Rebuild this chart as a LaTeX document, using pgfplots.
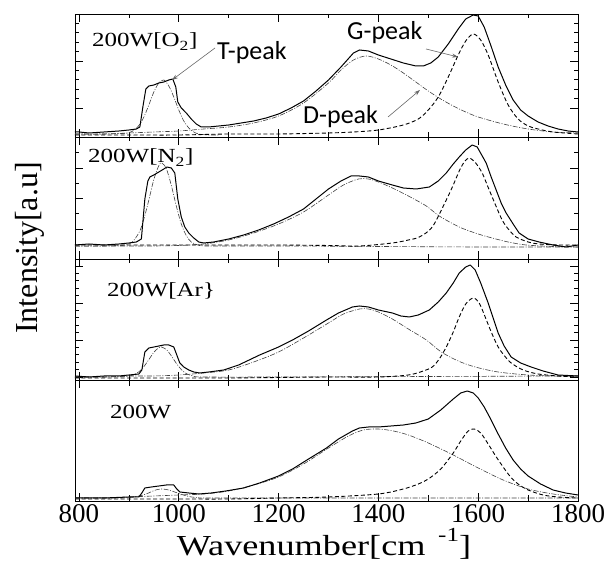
\documentclass[border=0pt]{standalone}
\usepackage{fontspec}
\setmainfont{Liberation Serif}
\newfontfamily\carlito{Carlito}
\usepackage{graphicx}
\usepackage{pgfplots}
\pgfplotsset{compat=1.18}
\usetikzlibrary{arrows.meta}

\pgfplotsset{
  panel/.style={
    scale only axis, width=503pt, xmin=792, xmax=1800, ymin=0,
    axis line style={line width=0.9pt},
    tick style={black, line width=0.7pt},
    xtick={800,1000,1200,1400,1600,1800},
    minor xtick={900,1100,1300,1500,1700},
    xticklabels={}, yticklabels={},
    major tick length=8pt, minor tick length=4.5pt,
    tick align=inside,
  },
  meas/.style={black, line width=1pt, line join=round},
  gfit/.style={black, line width=0.9pt, dash pattern=on 4pt off 2.5pt, smooth},
  dfit/.style={black!75, line width=0.6pt, dash pattern=on 5pt off 1.5pt on 1pt off 1.5pt, smooth},
}

\begin{document}
\begin{tikzpicture}
% ---------------- panel 1 : 200W[O2]
\begin{axis}[panel, at={(75pt,427pt)}, anchor=south west, height=123pt, ymax=123,
  ytick={29,76,123}, minor y tick num=4]
\addplot[dfit] coordinates {(792,3) (850,3) (900,4.3) (920,11.5) (930,20) (940,32) (950,45) (960,54) (970,57) (980,51) (990,40) (1000,27) (1010,16) (1020,9) (1030,5) (1040,3) (1060,2) (1080,2)};
\addplot[dfit] coordinates {(792,3) (850,3) (900,4) (950,5) (1000,6) (1050,8) (1100,10) (1150,14) (1200,21) (1250,34) (1300,54) (1325,67) (1350,77) (1375,81) (1400,78) (1425,72) (1450,64) (1475,55) (1500,46) (1525,38) (1550,31) (1575,25) (1600,20) (1650,13) (1700,8) (1750,5) (1800,4)};
\addplot[gfit] coordinates {(792,2) (900,2) (1000,2) (1100,3) (1200,3) (1300,4) (1350,5) (1400,7) (1450,12) (1480,18) (1500,27) (1520,40) (1540,60) (1560,82) (1575,96) (1590,103) (1605,97) (1620,82) (1640,55) (1660,32) (1680,18) (1700,11) (1720,8) (1750,5) (1800,3)};
\addplot[meas] coordinates {(792,5) (800,5) (820,4) (850,5) (880,6) (900,7) (915,8) (922,10) (928,30) (934,48) (940,51) (950,52) (960,54) (970,55) (980,57) (988,58) (994,50) (998,35) (1005,29) (1015,24) (1025,18) (1035,13) (1045,10) (1060,10) (1080,11) (1100,12) (1125,14) (1150,16) (1175,19) (1200,23) (1225,29) (1250,36) (1275,46) (1300,57) (1325,70) (1350,84) (1362,87) (1380,86) (1400,82) (1425,78) (1450,74) (1475,71) (1490,71) (1505,74) (1520,80) (1540,93) (1560,108) (1575,118) (1590,122) (1600,121) (1612,110) (1625,92) (1640,70) (1655,52) (1670,37) (1685,27) (1700,21) (1720,15) (1740,11) (1760,8) (1780,6) (1800,5)};
\end{axis}
% ---------------- panel 2 : 200W[N2]
\begin{axis}[panel, at={(75pt,305pt)}, anchor=south west, height=122pt, ymax=122,
  ytick={30,60.5,91,121.5}, minor y tick num=1]
\addplot[dfit] coordinates {(792,13) (850,13) (900,14.9) (920,26.2) (930,40) (940,59) (950,79.5) (960,93.4) (966,96) (975,90.4) (985,73.7) (995,53) (1005,35) (1015,23.4) (1025,17) (1040,13.7) (1060,13) (1200,13) (1400,12.5) (1600,12) (1800,12)};
\addplot[dfit] coordinates {(792,13) (850,13) (900,13) (950,13) (1000,13.5) (1050,15) (1100,19) (1150,26) (1200,35) (1250,47) (1300,64) (1330,74) (1360,80) (1380,80) (1400,77) (1428,71) (1460,63) (1496,53) (1522,43) (1562,32) (1600,25) (1628,21) (1660,17) (1696,14) (1750,12.5) (1800,12)};
\addplot[gfit] coordinates {(792,14) (900,14) (1000,14) (1100,14) (1200,14) (1300,13.5) (1362,13) (1428,16) (1460,19) (1482,22) (1508,32) (1536,59) (1550,74) (1562,88) (1572,97) (1582,101) (1595,96) (1608,86) (1618,74) (1628,62) (1648,39) (1662,29) (1676,22) (1700,17) (1722,15) (1760,14) (1800,14)};
\addplot[meas] coordinates {(792,14) (820,15) (850,14) (880,15) (900,16) (915,17) (925,20) (932,60) (938,78) (942,82) (950,84) (960,87) (970,90) (976,92) (985,91) (992,86) (998,60) (1005,42) (1012,32) (1020,26) (1030,21) (1040,17) (1050,16) (1070,17) (1100,20) (1130,24) (1160,29) (1190,35) (1220,42) (1250,50) (1275,60) (1300,70) (1325,78) (1345,83) (1362,83) (1380,82) (1400,78) (1428,74) (1450,71) (1476,70) (1502,72) (1520,78) (1536,86) (1550,95) (1562,102) (1575,109) (1588,114) (1598,112) (1607,104) (1616,96) (1626,82) (1636,69) (1646,56) (1656,46) (1670,35) (1682,26) (1700,20) (1722,17) (1750,14) (1776,12) (1800,14)};
\end{axis}
% ---------------- panel 3 : 200W[Ar}
\begin{axis}[panel, at={(75pt,184pt)}, anchor=south west, height=121pt, ymax=121,
  ytick={3,40,77,114}, minor y tick num=4]
\addplot[dfit] coordinates {(792,3) (850,3) (900,3.8) (920,8.2) (930,13.4) (940,20.4) (950,27.7) (960,32.4) (965,33) (975,30.5) (985,24.2) (995,16.7) (1005,10.5) (1015,6.4) (1030,3.8) (1050,3) (1200,3) (1500,3.5) (1800,4)};
\addplot[dfit] coordinates {(792,3) (850,3) (900,4) (950,4) (1000,5) (1050,7) (1100,10) (1150,18) (1200,28) (1250,42) (1300,57) (1330,66) (1362,71) (1380,71) (1400,68) (1428,61) (1460,51) (1496,40) (1526,28) (1560,19) (1594,13) (1640,8) (1700,5) (1760,4) (1800,4)};
\addplot[gfit] coordinates {(792,2) (900,2) (1000,2) (1100,2) (1200,2.5) (1300,3) (1400,3) (1460,5) (1490,9) (1508,13) (1522,21) (1536,33) (1550,48) (1562,63) (1575,76) (1590,82) (1602,77) (1614,63) (1627,47) (1640,33) (1653,24) (1666,17) (1690,10) (1720,6) (1760,4) (1800,3)};
\addplot[meas] coordinates {(792,4) (820,3) (850,4) (880,4) (900,5) (920,6) (926,10) (932,28) (940,32) (950,33) (960,34) (970,35) (980,35) (990,33) (996,25) (1002,17) (1010,13) (1020,10) (1030,8) (1042,7) (1060,8) (1090,10) (1120,15) (1162,25) (1200,33) (1228,40) (1260,49) (1296,60) (1320,67) (1348,73) (1362,74) (1380,73) (1400,70) (1428,67) (1445,64) (1462,63) (1480,65) (1502,70) (1520,78) (1536,87) (1550,97) (1562,107) (1575,113) (1584,115) (1594,110) (1605,97) (1620,77) (1630,62) (1640,47) (1652,34) (1666,23) (1685,17) (1706,13) (1730,9) (1760,5) (1800,4)};
\end{axis}
% ---------------- panel 4 : 200W
\begin{axis}[panel, at={(75pt,63pt)}, anchor=south west, height=121pt, ymax=121,
  ytick=\empty, minor ytick={7,17.6,28.2,38.8,49.4,60,70.6,81.2,91.8,102.4,113},
  minor tick length=6pt,
  xticklabels={800,1000,1200,1400,1600,1800},
  xticklabel style={font=\fontsize{27}{27}\selectfont}]
\addplot[dfit] coordinates {(792,3) (850,3) (900,3.3) (930,6.2) (945,9.3) (955,11.2) (966,12) (978,11.2) (990,9.3) (1005,6.7) (1020,4.5) (1040,3.2) (1060,3) (1300,3) (1800,3)};
\addplot[dfit] coordinates {(792,3) (850,3) (900,4) (950,5) (1000,6) (1050,7) (1100,10) (1150,16) (1200,24) (1250,37) (1300,53) (1340,65) (1370,71) (1400,72) (1430,70) (1460,66) (1500,58) (1550,46) (1600,33) (1650,21) (1700,12) (1750,7) (1800,4)};
\addplot[gfit] coordinates {(792,2) (900,2) (1000,2) (1100,2) (1200,3) (1300,4) (1400,7) (1450,12) (1480,17) (1500,22) (1525,32) (1550,48) (1565,60) (1580,70) (1592,72) (1605,68) (1620,57) (1635,45) (1650,34) (1665,24) (1680,17) (1700,11) (1730,6) (1760,4) (1800,3)};
\addplot[meas] coordinates {(792,3) (850,3) (900,4) (920,4) (926,8) (932,13) (945,14) (960,15) (975,16) (990,16) (996,12) (1002,9) (1020,8) (1040,7) (1065,8) (1094,10) (1130,13) (1162,18) (1200,25) (1228,32) (1260,42) (1296,53) (1320,62) (1348,70) (1362,73) (1380,74) (1400,74) (1425,75) (1450,76) (1475,78) (1500,82) (1525,91) (1550,102) (1565,108) (1578,110) (1590,108) (1600,103) (1612,94) (1625,82) (1640,67) (1655,53) (1670,41) (1685,32) (1700,25) (1725,17) (1750,11) (1775,8) (1800,6)};
\end{axis}

% ---------------- texts
\node[anchor=base west, inner sep=0, font=\fontsize{20}{20}\selectfont] at (92pt,517pt) {\scalebox{1.25}[1]{200W[O\textsubscript{2}]}};
\node[anchor=base west, inner sep=0, font=\fontsize{20}{20}\selectfont] at (88pt,401pt) {\scalebox{1.25}[1]{200W[N\textsubscript{2}]}};
\node[anchor=base west, inner sep=0, font=\fontsize{20}{20}\selectfont] at (107pt,267pt) {\scalebox{1.25}[1]{200W[Ar\}}};
\node[anchor=base west, inner sep=0, font=\fontsize{20}{20}\selectfont] at (110pt,145pt) {\scalebox{1.25}[1]{200W}};

\node[anchor=base west, inner sep=0, font=\carlito\fontsize{26}{26}\selectfont] at (217pt,504pt) {T-peak};
\node[anchor=base west, inner sep=0, font=\carlito\fontsize{26}{26}\selectfont] at (347pt,524pt) {G-peak};
\node[anchor=base west, inner sep=0, font=\carlito\fontsize{26}{26}\selectfont] at (303pt,440pt) {D-peak};
\draw[black!60, line width=0.6pt, -{Stealth[length=6pt,width=4pt]}] (215pt,516pt) -- (172pt,484pt);
\draw[black!60, line width=0.6pt, -{Stealth[length=6pt,width=4pt]}] (426pt,515pt) -- (458pt,507pt);
\draw[black!60, line width=0.6pt, -{Stealth[length=6pt,width=4pt]}] (388pt,447pt) -- (420pt,474pt);

\node[rotate=90, inner sep=0, font=\fontsize{32}{32}\selectfont] at (30pt,316pt) {Intensity[a.u]};
\node[anchor=base, inner sep=0, font=\fontsize{29}{29}\selectfont] at (324pt,8pt) {\scalebox{1.25}[1]{Wavenumber[cm\hspace{0.35em}\raisebox{0.5em}{\fontsize{20}{20}\selectfont -1}]}};

\pgfresetboundingbox
\path (0pt,0pt) rectangle (611pt,564pt);
\end{tikzpicture}
\end{document}
